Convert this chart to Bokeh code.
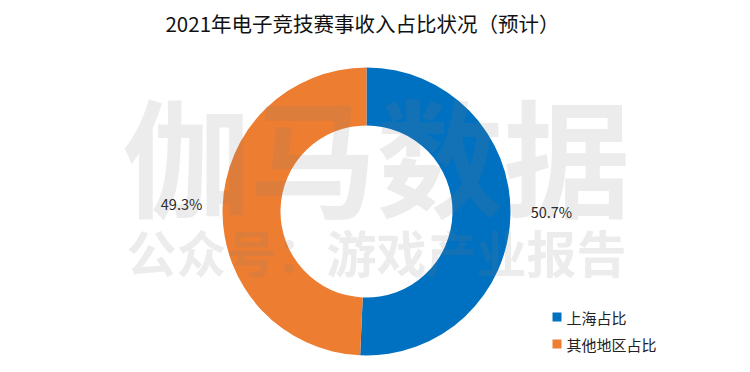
import math
from bokeh.plotting import figure
from bokeh.models import Range1d, ColumnDataSource
from bokeh.core.properties import value
from bokeh.embed import file_html
from bokeh.resources import INLINE

title_text = "2021年电子竞技赛事收入占比状况（预计）"
categories = ["上海占比", "其他地区占比"]
values = [50.7, 49.3]
colors = ["#0070C0", "#ED7D31"]
watermark_main = "伽马数据"
watermark_sub = "公众号：游戏产业报告"

W, H = 734, 356
FONT = "Noto Sans CJK SC"

p = figure(width=W, height=H, output_backend="svg", toolbar_location=None,
           x_range=Range1d(0, W), y_range=Range1d(0, H), min_border=0)
p.axis.visible = False
p.grid.visible = False
p.outline_line_color = None
p.background_fill_color = "white"

cx, cy = 366, 145
r_in, r_out = 86, 144

total = sum(values)
starts, ends, mids = [], [], []
a = math.pi / 2
for v in values:
    sweep = 2 * math.pi * v / total
    starts.append(a)
    ends.append(a - sweep)
    mids.append(a - sweep / 2)
    a -= sweep

src = ColumnDataSource(dict(x=[cx] * len(values), y=[cy] * len(values),
                            start=starts, end=ends, color=colors))
p.annular_wedge(x="x", y="y", inner_radius=r_in, outer_radius=r_out,
                start_angle="start", end_angle="end", direction="clock",
                fill_color="color", line_color=None, source=src)

# percentage labels
r_lab = 185
lx = [cx + r_lab * math.cos(m) for m in mids]
ly = [cy + 4 + r_lab * math.sin(m) for m in mids]
labels = [f"{v:.1f}%" for v in values]
p.text(x=lx, y=ly, text=labels, text_align="center", text_baseline="middle",
       text_font=value(FONT), text_font_size="14.5px", text_color="#222222")

# watermark
p.text(x=[376], y=[204], text=[watermark_main], text_align="center",
       text_baseline="middle", text_font=value(FONT), text_font_size="127px",
       text_font_style="bold", text_color="#808080", text_alpha=0.15)
p.text(x=[376], y=[106], text=[watermark_sub], text_align="center",
       text_baseline="middle", text_font=value(FONT), text_font_size="50px",
       text_font_style="bold", text_color="#808080", text_alpha=0.15)

# title
p.text(x=[362], y=[334], text=[title_text], text_align="center",
       text_baseline="middle", text_font=value(FONT), text_font_size="20.5px",
       text_color="#111111")

# legend
leg_y = [39.5, 12.5]
p.scatter(x=[556.5] * len(categories), y=leg_y, marker="square", size=9,
          fill_color=colors, line_color=None)
p.text(x=[566] * len(categories), y=leg_y, text=categories, text_align="left",
       text_baseline="middle", text_font=value(FONT), text_font_size="15px",
       text_color="#222222")

open("out.html", "w").write(file_html(p, INLINE))
